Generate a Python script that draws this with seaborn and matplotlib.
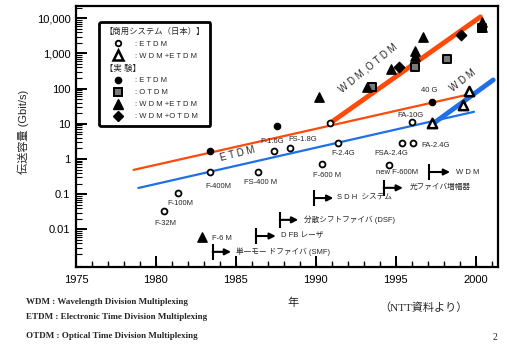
import matplotlib
matplotlib.use('Agg')
import matplotlib.pyplot as plt
import seaborn as sns
from matplotlib.lines import Line2D
from matplotlib.ticker import FixedLocator, LogLocator, NullFormatter, MultipleLocator

sns.set_style('ticks')
plt.rcParams['font.family'] = ['Liberation Sans', 'Noto Sans CJK JP']
plt.rcParams.update({
    'xtick.direction': 'in', 'ytick.direction': 'in',
    'xtick.major.size': 8, 'ytick.major.size': 8,
    'xtick.minor.size': 4, 'ytick.minor.size': 4,
    'xtick.major.width': 1.3, 'ytick.major.width': 1.3,
    'xtick.minor.width': 0.9, 'ytick.minor.width': 0.8,
    'xtick.color': 'black', 'ytick.color': 'black',
    'xtick.labelsize': 8, 'ytick.labelsize': 8,
    'xtick.major.pad': 6, 'ytick.major.pad': 4,
    'xtick.top': False, 'ytick.right': False,
})

RED = '#ff4a0a'
BLUE = '#1f6fe8'

# commercial ETDM (open circles)
com_etdm_year = [1980.5, 1981.4, 1983.4, 1986.4, 1987.4, 1988.4, 1990.4, 1990.9, 1991.4, 1994.6, 1995.4, 1996.1, 1996.0]
com_etdm_gbps = [0.034, 0.11, 0.42, 0.42, 1.7, 2.0, 0.7, 10.5, 2.8, 0.68, 2.8, 2.8, 11]
# commercial WDM+ETDM (open triangles)
com_wdm_year = [1997.3, 1999.2, 1999.6]
com_wdm_gbps = [10.6, 34, 86]
# experiments
exp_etdm_year = [1983.4, 1987.6, 1997.25]
exp_etdm_gbps = [1.7, 8.7, 42]
exp_otdm_year = [1993.5, 1996.2, 1998.2, 2000.4]
exp_otdm_gbps = [112, 415, 700, 5300]
exp_wdm_year = [1982.9, 1990.2, 1993.2, 1994.7, 1996.2, 1996.2, 1996.7, 2000.4, 2000.4]
exp_wdm_gbps = [0.006, 58, 112, 360, 1200, 850, 2950, 7900, 5800]
exp_wdm_otdm_year = [1995.2, 1999.1]
exp_wdm_otdm_gbps = [415, 3380]

# trend lines
etdm_exp_line_year = [1978.6, 1999.4]
etdm_exp_line_gbps = [0.49, 66]
otdm_line_year = [1990.9, 2000.3]
otdm_line_gbps = [10.5, 11000]
etdm_com_line_year = [1978.9, 1999.9]
etdm_com_line_gbps = [0.15, 22]
wdm_line_year = [1997.4, 2001.1]
wdm_line_gbps = [10.6, 177]

# point labels
pt_labels = ['F-32M', 'F-100M', 'F-400M', 'FS-400 M', 'F-1.6G', 'FS-1.8G', 'F-2.4G', 'F-600 M',
             'new F-600M', 'FSA-2.4G', 'FA-2.4G', 'FA-10G', '40 G', 'F-6 M']
pt_label_year = [1980.6, 1981.55, 1983.9, 1986.55, 1987.25, 1989.2, 1991.7, 1990.7,
                 1995.1, 1994.7, 1997.5, 1995.9, 1997.1, 1984.1]
pt_label_gbps = [0.015, 0.053, 0.17, 0.21, 3.2, 3.7, 1.48, 0.33,
                 0.40, 1.48, 2.5, 17.8, 86, 0.0056]

# technology milestones
event_labels = ['単一モー ドファイバ (SMF)', 'D FB レーザ', '分散シフトファイバ (DSF)',
                'S D H  システム', '光ファイバ増幅器', 'W D M']
event_year = [1983.55, 1986.25, 1987.75, 1989.9, 1994.25, 1997.1]
event_tip = [1984.7, 1987.5, 1988.9, 1991.1, 1995.45, 1998.4]
event_text_year = [1985.0, 1987.8, 1989.25, 1991.3, 1995.9, 1998.75]
event_logv = [-2.64, -2.19, -1.73, -1.11, -0.82, -0.37]

# axis ticks
x_major = [1975, 1980, 1985, 1990, 1995, 2000]
x_minor = list(range(1976, 2002))
y_major = [0.01, 0.1, 1, 10, 100, 1000, 10000]
y_major_labels = ['0.01', '0.1', '1', '10', '100', '1,000', '10,000']

fig = plt.figure(figsize=(5.07, 3.46), dpi=100)
ax = fig.add_axes([76 / 507, 1 - 267 / 346, 422 / 507, 261 / 346])
ax.set_yscale('log')

sns.lineplot(x=etdm_exp_line_year, y=etdm_exp_line_gbps, color=RED, linewidth=1.6, ax=ax)
sns.lineplot(x=otdm_line_year, y=otdm_line_gbps, color=RED, linewidth=3.5, ax=ax)
sns.lineplot(x=etdm_com_line_year, y=etdm_com_line_gbps, color=BLUE, linewidth=1.6, ax=ax)
sns.lineplot(x=wdm_line_year, y=wdm_line_gbps, color=BLUE, linewidth=3.5, ax=ax)

sns.scatterplot(x=com_etdm_year, y=com_etdm_gbps, marker='o', s=18, color='white',
                edgecolor='black', linewidth=1.3, ax=ax, zorder=5)
sns.scatterplot(x=com_wdm_year, y=com_wdm_gbps, marker='^', s=45, color='white',
                edgecolor='black', linewidth=1.8, ax=ax, zorder=5)
sns.scatterplot(x=exp_etdm_year, y=exp_etdm_gbps, marker='o', s=20, color='black',
                edgecolor='black', linewidth=1, ax=ax, zorder=5)
sns.scatterplot(x=exp_otdm_year, y=exp_otdm_gbps, marker='s', s=38, color='#7a7a7a',
                edgecolor='black', linewidth=1.4, ax=ax, zorder=5)
sns.scatterplot(x=exp_wdm_year, y=exp_wdm_gbps, marker='^', s=45, color='black',
                edgecolor='black', linewidth=1, ax=ax, zorder=6)
sns.scatterplot(x=exp_wdm_otdm_year, y=exp_wdm_otdm_gbps, marker='D', s=28, color='black',
                edgecolor='black', linewidth=1, ax=ax, zorder=6)

for lab, x, y in zip(pt_labels, pt_label_year, pt_label_gbps):
    ax.text(x, y, lab, fontsize=5.5, ha='center', va='center', zorder=7)

for lab, x0, x1, xt, lv in zip(event_labels, event_year, event_tip, event_text_year, event_logv):
    ax.vlines(x0, 10 ** (lv - 0.22), 10 ** (lv + 0.22), color='black', linewidth=1.5)
    ax.annotate('', xy=(x1, 10 ** lv), xytext=(x0, 10 ** lv),
                arrowprops=dict(arrowstyle='-|>', color='black', lw=1.5,
                                mutation_scale=9, shrinkA=0, shrinkB=0))
    ax.text(xt, 10 ** lv, lab, fontsize=5.5, ha='left', va='center')

ax.text(1985.1, 1.39, 'E T D M', fontsize=7, rotation=14, ha='center', va='center')
ax.text(1993.25, 387, 'W D M ,O T D M', fontsize=7, rotation=39, ha='center', va='center')
ax.text(1999.2, 166, 'W D M', fontsize=7, rotation=38, ha='center', va='center')

# legend
hdr = Line2D([], [], linestyle='none')
handles = [
    hdr,
    Line2D([], [], marker='o', linestyle='none', markerfacecolor='white', markeredgecolor='black',
           markersize=4, markeredgewidth=1.3),
    Line2D([], [], marker='^', linestyle='none', markerfacecolor='white', markeredgecolor='black',
           markersize=6.5, markeredgewidth=1.8),
    hdr,
    Line2D([], [], marker='o', linestyle='none', color='black', markersize=4.5),
    Line2D([], [], marker='s', linestyle='none', markerfacecolor='#7a7a7a', markeredgecolor='black',
           markersize=5.5, markeredgewidth=1.4),
    Line2D([], [], marker='^', linestyle='none', color='black', markersize=6.5),
    Line2D([], [], marker='D', linestyle='none', color='black', markersize=5),
]
labels = ['【商用システム（日本）】', ': E T D M', ': W D M +E T D M', '【実 験】',
          ': E T D M', ': O T D M', ': W D M +E T D M', ': W D M +O T D M']
leg = ax.legend(handles=handles, labels=labels, loc='upper left', bbox_to_anchor=(0.055, 0.937),
                fontsize=5.5, frameon=True, fancybox=True, handlelength=3.6, handletextpad=0.4,
                labelspacing=0.6, borderpad=0.7, borderaxespad=0)
leg.get_frame().set_edgecolor('black')
leg.get_frame().set_linewidth(2)
leg.get_frame().set_alpha(1)
rows = leg._legend_handle_box.get_children()[0].get_children()
for i in (0, 3):
    rows[i]._children = rows[i]._children[1:]
    leg.get_texts()[i].set_fontsize(6)

ax.set_xlim(1975, 2001.4)
ax.set_ylim(8.5e-4, 2.24e4)
ax.xaxis.set_major_locator(FixedLocator(x_major))
ax.xaxis.set_minor_locator(MultipleLocator(1))
ax.yaxis.set_major_locator(FixedLocator(y_major))
ax.set_yticklabels(y_major_labels)
ax.yaxis.set_minor_locator(LogLocator(base=10, subs=range(2, 10), numticks=20))
ax.yaxis.set_minor_formatter(NullFormatter())

# tick marks drawn explicitly as well, so they always show
ax.vlines(x_major, 0, 0.042, transform=ax.get_xaxis_transform(), color='black',
          linewidth=1.3, zorder=8)
ax.vlines(x_minor, 0, 0.021, transform=ax.get_xaxis_transform(), color='black',
          linewidth=0.9, zorder=8)
ax.hlines(y_major, 0, 0.026, transform=ax.get_yaxis_transform(), color='black',
          linewidth=1.3, zorder=8)

for sp in ax.spines.values():
    sp.set_linewidth(1.6)
    sp.set_color('black')
    sp.set_zorder(9)

fig.text(23 / 507, 1 - 132 / 346, '伝送容量 (Gbit/s)', rotation=90, fontsize=8,
         ha='center', va='center')
fig.text(293 / 507, 1 - 303 / 346, '年', fontsize=8, ha='center', va='center')
fig.text(423 / 507, 1 - 308 / 346, '（NTT資料より）', fontsize=8, ha='center', va='center',
         family=['Liberation Serif', 'Noto Sans CJK JP'])
fig.text(495 / 507, 1 - 338 / 346, '2', fontsize=7, ha='center', va='center',
         family='Liberation Serif')
notes = ['WDM : Wavelength Division Multiplexing',
         'ETDM : Electronic Time Division Multiplexing',
         'OTDM : Optical Time Division Multiplexing']
for note, py in zip(notes, [302, 317, 336]):
    fig.text(26 / 507, 1 - py / 346, note, fontsize=6.5, fontweight='bold', ha='left',
             va='center', family='Liberation Serif')

fig.savefig('out.png', dpi=100)
